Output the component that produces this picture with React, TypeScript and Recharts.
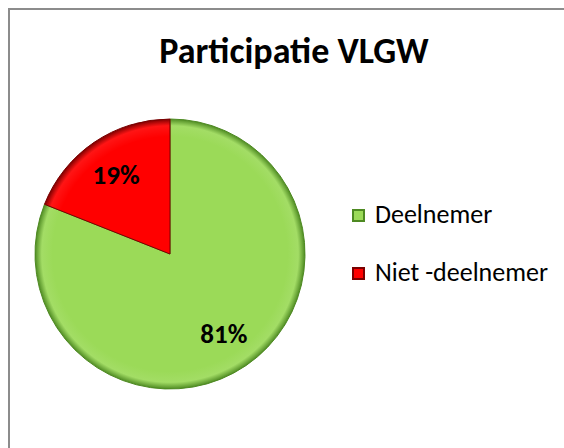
import { PieChart, Pie, Cell, Legend } from "recharts"

const categories = ["Deelnemer", "Niet -deelnemer"]
const shares = [81, 19]
const sliceColors = ["#9bda58", "#ff0000"]
const edgeColors = ["#4e8a22", "#7a0000"]

const W = 564
const H = 448
const CX = 170
const CY = 254
const R = 135
const FONT = "Carlito, Lato, 'Open Sans', sans-serif"

const data = categories.map((name, i) => ({ name, value: shares[i] }))

const RAD = Math.PI / 180

function renderLabel(props: any) {
  const { cx, cy, midAngle, outerRadius, value } = props
  const r = outerRadius * 0.71
  const x = cx + r * Math.cos(-midAngle * RAD)
  const y = cy + r * Math.sin(-midAngle * RAD)
  return (
    <text
      x={x}
      y={y}
      textAnchor="middle"
      dominantBaseline="central"
      fontFamily={FONT}
      fontWeight={700}
      fontSize={27}
      fill="#000"
    >
      {value}%
    </text>
  )
}

function LegendList({ payload }: any) {
  return (
    <div style={{ fontFamily: FONT, fontSize: 26, color: "#000" }}>
      {(payload || []).map((p: any, i: number) => (
        <div
          key={p.value}
          style={{ display: "flex", alignItems: "center", height: 28, marginBottom: i === 0 ? 30 : 0 }}
        >
          <span
            style={{
              display: "inline-block",
              width: 13,
              height: 13,
              marginTop: 2,
              background: sliceColors[i],
              boxShadow: `inset 0 0 0 2px ${edgeColors[i]}`,
              marginRight: 10,
            }}
          />
          <span style={{ lineHeight: "28px" }}>{p.value}</span>
        </div>
      ))}
    </div>
  )
}

export default function App() {
  return (
    <div style={{ position: "absolute", left: 0, top: 0, width: W, height: H, overflow: "hidden", background: "#fff" }}>
      <div
        style={{
          position: "absolute",
          left: 8,
          top: 8,
          width: 620,
          height: 500,
          border: "2px solid #8c8c8c",
        }}
      />
      <div
        style={{
          position: "absolute",
          left: 0,
          top: 30,
          width: 588,
          textAlign: "center",
          fontFamily: FONT,
          fontWeight: 700,
          fontSize: 36,
          lineHeight: "43px",
          color: "#000",
        }}
      >
        Participatie VLGW
      </div>
      <div style={{ position: "absolute", left: 0, top: 0 }}>
        <PieChart width={W} height={H} margin={{ top: 0, right: 0, bottom: 0, left: 0 }}>
          <defs>
            {sliceColors.map((c, i) => (
              <radialGradient key={c} id={`bevel${i}`} gradientUnits="userSpaceOnUse" cx={CX} cy={CY} r={R}>
                <stop offset="0%" stopColor={c} />
                <stop offset="87%" stopColor={c} />
                <stop offset="95%" stopColor={c} stopOpacity={0.92} />
                <stop offset="100%" stopColor={edgeColors[i]} />
              </radialGradient>
            ))}
          </defs>
          <Pie
            data={data}
            dataKey="value"
            nameKey="name"
            cx={CX}
            cy={CY}
            outerRadius={R}
            startAngle={90}
            endAngle={-270}
            label={renderLabel}
            labelLine={false}
            isAnimationActive={false}
          >
            {data.map((d, i) => (
              <Cell key={d.name} fill={`url(#bevel${i})`} stroke={edgeColors[i]} strokeWidth={1} />
            ))}
          </Pie>
          <Legend
            layout="vertical"
            content={<LegendList />}
            payload={data.map((d, i) => ({ value: d.name, type: "square", color: sliceColors[i] }))}
            wrapperStyle={{ position: "absolute", left: 352, top: 200, width: 212 }}
          />
        </PieChart>
      </div>
    </div>
  )
}
